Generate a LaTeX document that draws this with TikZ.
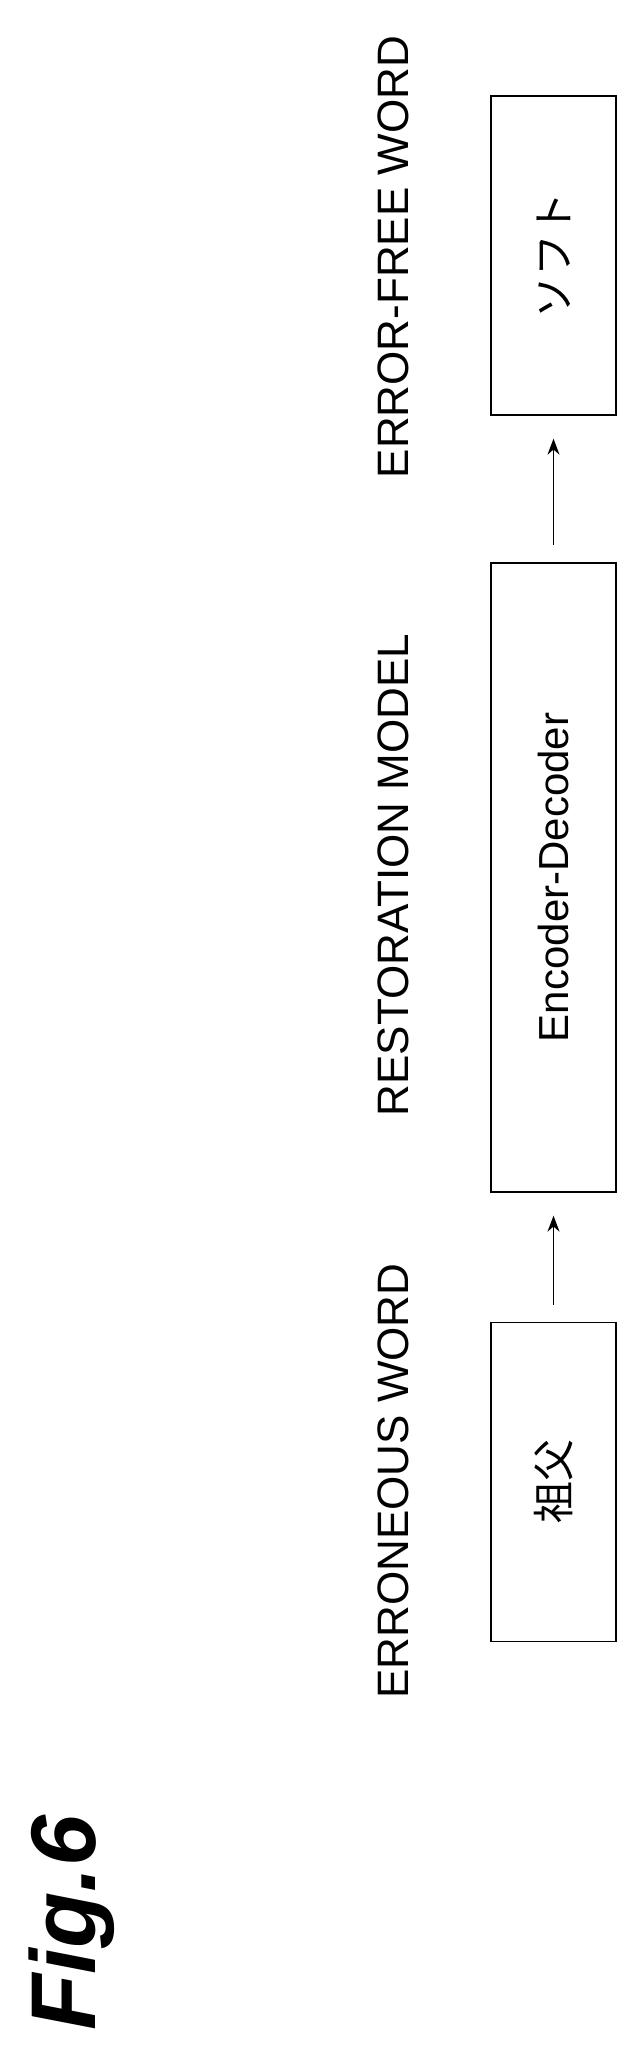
\documentclass[tikz,border=0pt]{standalone}
\usepackage{fontspec}
\setmainfont{Liberation Sans}
\newfontfamily\cjk{Noto Sans CJK JP}
\usetikzlibrary{arrows.meta}
\begin{document}
\begin{tikzpicture}[x=1pt,y=1pt,
  lbl/.style={rotate=90,font=\fontsize{44}{48}\selectfont,inner sep=0pt},
  boxn/.style={draw,line width=1.4pt,rotate=90,minimum height=125pt,inner sep=0pt,font=\fontsize{42}{46}\selectfont},
  arr/.style={-{Stealth[length=16pt,width=12pt]},line width=1.2pt,shorten <=17pt,shorten >=23pt}]
\useasboundingbox (0,0) rectangle (641,2049);
\node[lbl] (l1) at (393,568) {ERRONEOUS WORD};
\node[lbl] (l2) at (393,1174) {RESTORATION MODEL};
\node[lbl] (l3) at (393,1792) {ERROR-FREE WORD};
\node[boxn,minimum width=319pt] (b1) at (553.5,567) {{\cjk 祖父}};
\node[boxn,minimum width=629pt] (b2) at (553.5,1171.5) {Encoder-Decoder};
\node[boxn,minimum width=319pt] (b3) at (553.5,1793.5) {{\cjk ソフト}};
\draw[arr] (b1.east) -- (b2.west);
\draw[arr] (b2.east) -- (b3.west);
\node[rotate=90,font=\fontsize{92}{96}\selectfont\bfseries\itshape,inner sep=0pt] (fig) at (72,126) {Fig.6};
\end{tikzpicture}
\end{document}
